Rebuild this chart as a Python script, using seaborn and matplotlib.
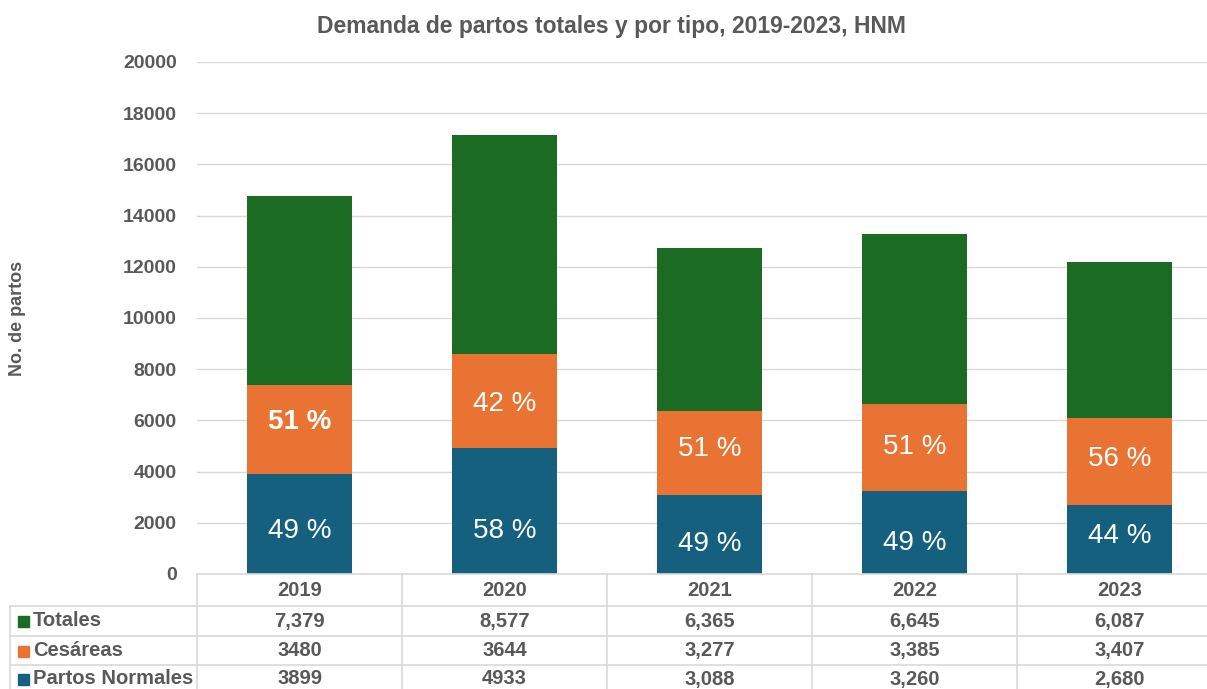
import matplotlib
matplotlib.use("Agg")
import matplotlib.pyplot as plt
import seaborn as sns
import pandas as pd
import numpy as np
from matplotlib.lines import Line2D
from matplotlib.patches import Rectangle

years = ["2019", "2020", "2021", "2022", "2023"]
normales = [3899, 4933, 3088, 3260, 2680]
cesareas = [3480, 3644, 3277, 3385, 3407]
totales = [7379, 8577, 6365, 6645, 6087]
pct_normales = ["49 %", "58 %", "49 %", "49 %", "44 %"]
pct_cesareas = ["51 %", "42 %", "51 %", "51 %", "56 %"]
tab_totales = ["7,379", "8,577", "6,365", "6,645", "6,087"]
tab_cesareas = ["3480", "3644", "3,277", "3,385", "3,407"]
tab_normales = ["3899", "4933", "3,088", "3,260", "2,680"]
yticks = list(range(0, 20001, 2000))

# manual label nudges (data units) as in the original chart
nudge_nor = [-270, -780, -390, -430, 160]
nudge_ces = [310, -120, 160, 0, 120]

C_TOT = "#1B6B22"
C_CES = "#E97333"
C_NOR = "#16607F"
GRAY = "#595959"
GRID = "#D9D9D9"

sns.set_theme(style="white")
plt.rcParams["font.family"] = ["Liberation Sans", "DejaVu Sans"]

W, H = 1207, 689
fig = plt.figure(figsize=(W / 100, H / 100), dpi=100)
left, right, top, bottom = 197, 1222, 62, 574
ax = fig.add_axes([left / W, 1 - bottom / H, (right - left) / W, (bottom - top) / H])

df = pd.DataFrame({"year": years, "nor": normales, "ces": cesareas, "tot": totales})
df["c2"] = df["nor"] + df["ces"]
df["c3"] = df["c2"] + df["tot"]

bw = 0.51
for col, c in [("c3", C_TOT), ("c2", C_CES), ("nor", C_NOR)]:
    sns.barplot(data=df, x="year", y=col, color=c, width=bw, ax=ax, saturation=1,
                zorder=3, linewidth=0, edgecolor=c)

ax.set_xlim(-0.5, len(years) - 0.5)
ax.set_ylim(0, 20000)
ax.set_yticks(yticks)
ax.set_yticklabels([str(t) for t in yticks], fontsize=14, fontweight="bold", color=GRAY)
ax.tick_params(axis="y", length=0, pad=14.5)
ax.set_xticks([])
ax.set_xlabel("")
ax.set_ylabel("")
for s in ax.spines.values():
    s.set_visible(False)
ax.grid(axis="y", color=GRID, linewidth=1, zorder=0)
ax.set_axisbelow(True)

for i in range(len(years)):
    ax.text(i, normales[i] / 2 + nudge_nor[i], pct_normales[i], ha="center", va="center",
            color="white", fontsize=20, zorder=5)
    ax.text(i, normales[i] + cesareas[i] / 2 + nudge_ces[i], pct_cesareas[i], ha="center",
            va="center", color="white", fontsize=20,
            fontweight="bold" if i == 0 else "normal", zorder=5)

fig.text(611 / W, 1 - 27 / H, "Demanda de partos totales y por tipo, 2019-2023, HNM",
         ha="center", va="center", fontsize=16.5, fontweight="bold", color=GRAY)
fig.text(18 / W, 1 - 318 / H, "No. de partos", rotation=90, ha="center", va="center",
         fontsize=13, fontweight="bold", color=GRAY)

def fx(px):
    return px / W

def fy(py):
    return 1 - py / H

rows_y = [574, 606, 636, 665, 700]
col_x = [197 + 205 * k for k in range(6)]
lw = 1.2
fig.add_artist(Line2D([fx(197), fx(1222)], [fy(574), fy(574)], color=GRID, lw=lw))
for yy in rows_y[1:4]:
    fig.add_artist(Line2D([fx(10), fx(1222)], [fy(yy), fy(yy)], color=GRID, lw=lw))
for xx in col_x:
    fig.add_artist(Line2D([fx(xx), fx(xx)], [fy(574), fy(700)], color=GRID, lw=lw))
fig.add_artist(Line2D([fx(10), fx(10)], [fy(606), fy(700)], color=GRID, lw=lw))

TFS = 14.5
for i, yr in enumerate(years):
    cx = (col_x[i] + col_x[i + 1]) / 2
    fig.text(fx(cx), fy(591), yr, ha="center", va="center", fontsize=TFS,
             fontweight="bold", color=GRAY)
    fig.text(fx(cx), fy(621), tab_totales[i], ha="center", va="center", fontsize=TFS,
             fontweight="bold", color=GRAY)
    fig.text(fx(cx), fy(650.5), tab_cesareas[i], ha="center", va="center", fontsize=TFS,
             fontweight="bold", color=GRAY)
    fig.text(fx(cx), fy(679), tab_normales[i], ha="center", va="center", fontsize=TFS,
             fontweight="bold", color=GRAY)

labels = [("Totales", C_TOT, 621), ("Cesáreas", C_CES, 650.5), ("Partos Normales", C_NOR, 679)]
for name, col, yy in labels:
    fig.add_artist(Rectangle((fx(18), fy(yy + 6)), 11 / W, 11 / H, color=col,
                             transform=fig.transFigure))
    fig.text(fx(33), fy(yy), name, ha="left", va="center", fontsize=14.5,
             fontweight="bold", color=GRAY)

fig.savefig("out.png", dpi=100)
